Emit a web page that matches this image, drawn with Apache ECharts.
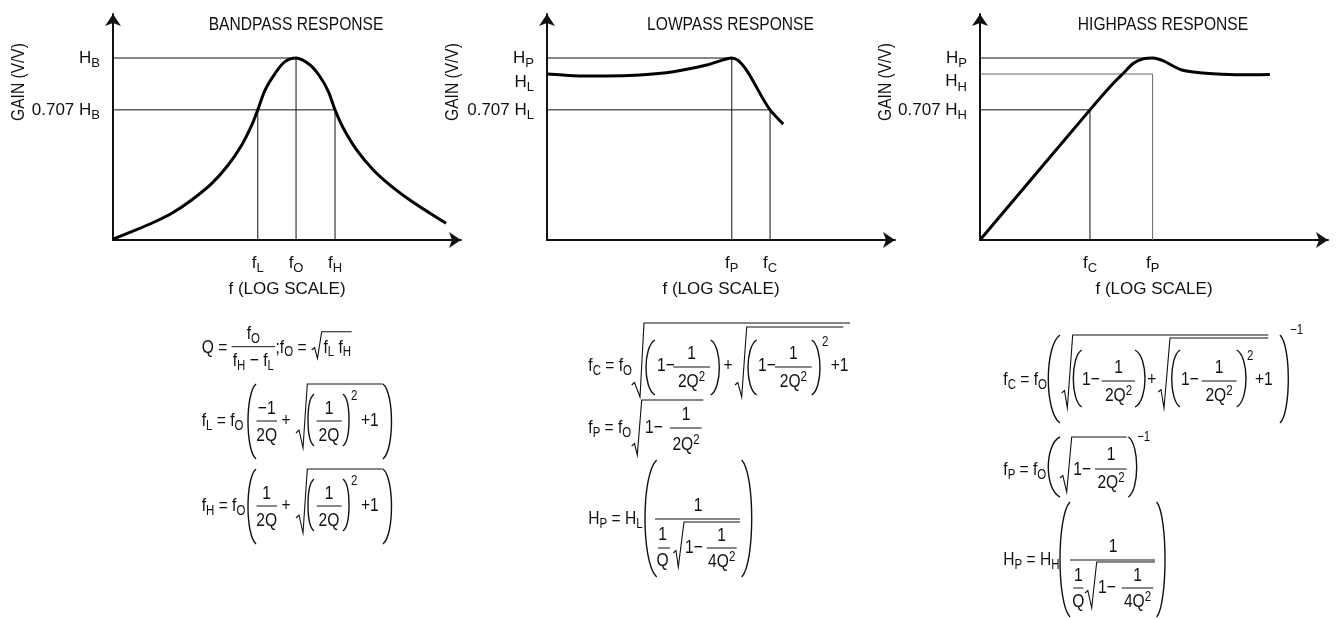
<!DOCTYPE html>
<html><head><meta charset="utf-8">
<script src="https://cdn.jsdelivr.net/npm/echarts@6/dist/echarts.min.js"></script>
<style>html,body{margin:0;padding:0;background:#fff}#c{width:1336px;height:619px}</style>
</head><body><div id="c"></div>
<script>
const FONT = "'Liberation Sans Narrow','Arial Narrow','Liberation Sans',Arial,sans-serif";
const FS = 19, SS = 14, INK = '#111', SX = 0.82;
const AFS = 17, ASS = 13;

// ---------- data (x: position along log-frequency axis, 0..100; y: gain, H = 1) ----------
const bpX = [0, 5.4, 11.1, 16.9, 22.6, 28.4, 33.1, 37.0, 39.9, 41.6, 43.7, 46.6, 49.4, 52.6, 56.6, 59.5, 61.9, 63.8, 66.2, 70.0, 74.8, 79.6, 85.3, 91.1, 95.7];
const bpY = [0.005, 0.046, 0.092, 0.147, 0.220, 0.311, 0.412, 0.522, 0.632, 0.715, 0.824, 0.916, 0.980, 1.0, 0.962, 0.897, 0.815, 0.715, 0.614, 0.495, 0.385, 0.302, 0.220, 0.147, 0.092];
const lpX = [0, 7.6, 17.2, 26.7, 36.3, 45.9, 53.1, 64.1, 67.9];
const lpY = [0.912, 0.903, 0.901, 0.907, 0.925, 0.962, 1.0, 0.715, 0.637];
const hpX = [0, 31.6, 38.3, 41.2, 44.1, 46.9, 49.8, 52.7, 55.5, 58.0, 61.3, 67.0, 74.7, 83.3];
const hpY = [0, 0.715, 0.861, 0.916, 0.971, 0.995, 1.0, 0.984, 0.956, 0.934, 0.923, 0.914, 0.908, 0.910];

const titles = ['BANDPASS RESPONSE', 'LOWPASS RESPONSE', 'HIGHPASS RESPONSE'];
const bpXTicks = [41.6, 52.6, 63.8], bpXLabels = ['f_L', 'f_O', 'f_H'];
const bpYTicks = [0.715, 1.0],       bpYLabels = ['0.707 H_B', 'H_B'];
const lpXTicks = [53.1, 64.1],       lpXLabels = ['f_P', 'f_C'];
const lpYTicks = [0.715, 0.868, 1.0], lpYLabels = ['0.707 H_L', 'H_L', 'H_P'];
const hpXTicks = [31.6, 49.6],       hpXLabels = ['f_C', 'f_P'];
const hpYTicks = [0.715, 0.87, 1.0], hpYLabels = ['0.707 H_H', 'H_H', 'H_P'];

// guide lines [x1,y1,x2,y2]
const bpGuides = [[0,1,52.6,1],[0,0.715,63.8,0.715],[41.6,0,41.6,0.715],[52.6,0,52.6,1],[63.8,0,63.8,0.715]];
const lpGuides = [[0,1,53.1,1],[0,0.715,64.1,0.715],[53.1,0,53.1,1],[64.1,0,64.1,0.715]];
const hpGuides = [[0,1,49.8,1],[0,0.715,31.6,0.715],[31.6,0,31.6,0.715]];
const hpGrayGuides = [[0,0.912,49.6,0.912],[49.6,0,49.6,0.912]];

// ---------- helpers ----------
function rt(str){
  let out='', buf='';
  for (let i=0;i<str.length;i++){
    const c=str[i];
    if ((c==='_'||c==='^') && i+1<str.length){
      if (buf){ out+='{m|'+buf+'}'; buf=''; }
      out+='{'+(c==='_'?'s':'p')+'|'+str[i+1]+'}'; i++;
    } else buf+=c;
  }
  if (buf) out+='{m|'+buf+'}';
  return out;
}
function mkRich(fs, ss){ return {
  m: {fontFamily: FONT, fontSize: fs, lineHeight: 24, color: INK, fill: INK},
  s: {fontFamily: FONT, fontSize: ss, lineHeight: 15, verticalAlign: 'bottom', color: INK, fill: INK},
  p: {fontFamily: FONT, fontSize: ss, lineHeight: 14, verticalAlign: 'top', color: INK, fill: INK}
}; }
const RICH = mkRich(FS, SS), ARICH = mkRich(AFS, ASS);
const G = [];
function T(x, y, s, al, rot){ al = al==='c' ? 'center' : (al||'left');
  G.push({type:'text', x, y, scaleX: SX, rotation: rot||0, silent:true, style:{text: rt(s), rich: RICH, fill: INK, fontFamily: FONT, fontSize: FS,
    align: al, verticalAlign: 'middle', textAlign: al, textVerticalAlign: 'middle'}}); }
function L(x1, x2, y){ G.push({type:'line', silent:true, shape:{x1, y1:y, x2, y2:y}, style:{stroke: INK, lineWidth: 1}}); }
function R(pts){ G.push({type:'polyline', silent:true, shape:{points: pts}, style:{stroke: INK, lineWidth: 1.1, fill: null}}); }
function P(xl, xr, y1, y2, left){
  const h = y2 - y1;
  const xe = left ? xr : xl, xb = left ? xl : xr;
  const c = xe + (xb - xe)/0.75;
  G.push({type:'bezierCurve', silent:true, shape:{x1: xe, y1, x2: xe, y2, cpx1: c, cpy1: y1 + h*0.12, cpx2: c, cpy2: y2 - h*0.12},
    style:{stroke: INK, lineWidth: 1.4, fill: null}});
}

// ---------- titles & axis names ----------
const titleCenters = [296, 730.5, 1163];
titles.forEach((t,i) => T(titleCenters[i], 25, t, 'c'));
[19, 453, 886].forEach(x => T(x, 82, 'GAIN (V/V)', 'c', Math.PI/2));

// ---------- formulas: bandpass ----------
T(201.7, 347.5, 'Q =');
T(253.3, 334, 'f_O', 'c'); L(231.7, 275, 346.7); T(253.3, 361, 'f_H − f_L', 'c');
T(275.5, 347.5, ';f_O =');
R([[311.7,350],[314.5,347.5],[317.5,358.3],[321.7,331.7],[351.7,331.7]]);
T(323.5, 347.5, 'f_L f_H');
function bpLine(A, lhs, num){
  T(201.7, A, lhs);
  P(248, 256, A-37, A+38, true);
  T(266.7, A-12, num, 'c'); L(256.5, 277, A); T(266.7, A+15, '2Q', 'c');
  T(286, A, '+', 'c');
  R([[296,A+12],[299,A+9],[303,A+27],[307.3,A-37],[382.7,A-37]]);
  P(308, 314, A-27, A+25, true);
  T(329, A-12, '1', 'c'); L(316.7, 341.7, A); T(329, A+15, '2Q', 'c');
  P(343, 349, A-27, A+25, false);
  T(351, A-25, '^2');
  T(361, A, '+1');
  P(383, 391.5, A-37, A+38, false);
}
bpLine(421, 'f_L = f_O', '−1');
bpLine(506, 'f_H = f_O', '1');

// ---------- formulas: lowpass ----------
(function(){
  let A = 366;
  T(588.3, A, 'f_C = f_O');
  R([[631.7,A+19],[634.5,A+16.5],[640,A+31],[644,A-43],[850,A-43]]);
  P(646, 655, A-26, A+29, true);
  T(657, A, '1−'); L(673.3, 710, A+1); T(691.5, A-12, '1', 'c'); T(691.5, A+16, '2Q^2', 'c');
  P(710.7, 719.3, A-26, A+29, false);
  T(728, A, '+', 'c');
  R([[735,A+19],[737.8,A+16.5],[741.7,A+31],[746.7,A-39],[843.3,A-39]]);
  P(748, 756.7, A-26, A+29, true);
  T(758, A, '1−'); L(775, 811.7, A+1); T(793.3, A-12, '1', 'c'); T(793.3, A+16, '2Q^2', 'c');
  P(811.7, 820, A-26, A+29, false);
  T(822, A-24, '^2');
  T(830.7, A, '+1');
  A = 428;
  T(588.3, A, 'f_P = f_O');
  R([[631.7,A+18],[634.5,A+15.5],[637.3,A+27],[641.7,A-28],[703.3,A-28]]);
  T(645, A, '1−'); L(670, 701.7, A); T(686, A-13, '1', 'c'); T(686, A+17, '2Q^2', 'c');
  A = 519;
  T(588.3, A, 'H_P = H_L');
  P(645, 656.7, A-59, A+58, true);
  T(698, A-13, '1', 'c'); L(655, 740, A);
  T(662.5, A+16, '1', 'c'); L(658, 670, A+29); T(662.5, A+42, 'Q', 'c');
  R([[673.3,A+34],[676,A+31.5],[678.3,A+48],[684,A+3],[740,A+3]]);
  T(685, A+29, '1−'); L(706.7, 736.7, A+29); T(721.7, A+17, '1', 'c'); T(721.7, A+43, '4Q^2', 'c');
  P(741.7, 751.7, A-59, A+58, false);
})();

// ---------- formulas: highpass ----------
(function(){
  let A = 380;
  T(1003.3, A, 'f_C = f_O');
  P(1048.3, 1060, A-45, A+43, true);
  R([[1061.7,A+13],[1064.5,A+10.5],[1067.3,A+28],[1072.7,A-45],[1268.3,A-45]]);
  P(1073.3, 1081.7, A-30, A+27, true);
  T(1082, A, '1−'); L(1101.7, 1135, A+1); T(1118.5, A-12, '1', 'c'); T(1118.5, A+16, '2Q^2', 'c');
  P(1135, 1145, A-30, A+27, false);
  T(1151.7, A, '+', 'c');
  R([[1158.3,A+12],[1161,A+9.5],[1164,A+28],[1170,A-42],[1268.3,A-42]]);
  P(1171.7, 1180, A-30, A+27, true);
  T(1181, A, '1−'); L(1201.7, 1236.7, A+1); T(1219, A-12, '1', 'c'); T(1219, A+16, '2Q^2', 'c');
  P(1236.7, 1246, A-30, A+27, false);
  T(1247, A-24, '^2');
  T(1255, A, '+1');
  P(1280, 1288.3, A-45, A+43, false);
  T(1290, A-50, '^−^1');
  A = 470;
  T(1003.3, A, 'f_P = f_O');
  P(1048.3, 1060, A-33, A+27, true);
  R([[1060,A+8],[1062.8,A+5.5],[1066.7,A+22],[1071.7,A-33],[1126.7,A-33]]);
  T(1073.3, A, '1−'); L(1095, 1126.7, A-1); T(1111, A-15, '1', 'c'); T(1111, A+13, '2Q^2', 'c');
  P(1128.3, 1136.7, A-33, A+27, false);
  T(1137, A-33, '^−^1');
  A = 560;
  T(1003.3, A, 'H_P = H_H');
  P(1060, 1070, A-58, A+57, true);
  T(1113, A-13, '1', 'c'); L(1070, 1155, A);
  T(1078.3, A+16, '1', 'c'); L(1073.3, 1083.3, A+28); T(1078.3, A+42, 'Q', 'c');
  R([[1085,A+33],[1087.8,A+30.5],[1091.7,A+48],[1096.7,A+2],[1155,A+2]]);
  T(1098, A+28, '1−'); L(1121.7, 1153.3, A+28); T(1137.5, A+16, '1', 'c'); T(1137.5, A+42, '4Q^2', 'c');
  P(1156.7, 1165, A-58, A+57, false);
})();

// ---------- chart ----------
const lefts = [113, 547, 980];
const XT = [bpXTicks, lpXTicks, hpXTicks], XL = [bpXLabels, lpXLabels, hpXLabels];
const YT = [bpYTicks, lpYTicks, hpYTicks], YL = [bpYLabels, lpYLabels, hpYLabels];
const CUR = [[bpX,bpY],[lpX,lpY],[hpX,hpY]];
const GUIDES = [bpGuides, lpGuides, hpGuides];
const axisLine = {show:true, onZero:true, symbol:['none','arrow'], symbolSize:[12,12], lineStyle:{color: INK, width: 2}};
function lab(ticks, labels){ return v => { let k=0, d=1e9; ticks.forEach((t,i)=>{ if (Math.abs(t-v)<d){d=Math.abs(t-v);k=i;} }); return rt(labels[k]); }; }

const series = [];
CUR.forEach((c, i) => {
  series.push({type:'line', xAxisIndex:i, yAxisIndex:i, data: c[0].map((x,j)=>[x, c[1][j]]), showSymbol:false, smooth:0.3,
    lineStyle:{color:'#000', width:3}, silent:true, z:3});
  GUIDES[i].forEach(g => series.push({type:'line', xAxisIndex:i, yAxisIndex:i, data:[[g[0],g[1]],[g[2],g[3]]], showSymbol:false,
    lineStyle:{color: INK, width:1}, silent:true, z:2}));
});
hpGrayGuides.forEach(g => series.push({type:'line', xAxisIndex:2, yAxisIndex:2, data:[[g[0],g[1]],[g[2],g[3]]], showSymbol:false,
  lineStyle:{color:'#666', width:1}, silent:true, z:2}));

const option = {
  animation:false, backgroundColor:'#fff',
  grid: lefts.map(l=>({left:l, top:14, width:348, height:226, containLabel:false, outerBoundsMode:'none'})),
  xAxis: lefts.map((l,i)=>({type:'value', gridIndex:i, min:0, max:100, axisLine,
    axisTick:{show:false}, splitLine:{show:false},
    axisLabel:{customValues: XT[i], formatter: lab(XT[i], XL[i]), rich: ARICH, margin: 11, color: INK},
    name:'f (LOG SCALE)', nameLocation:'middle', nameGap: 41,
    nameTextStyle:{fontFamily: FONT, fontSize: AFS, color: INK}})),
  yAxis: lefts.map((l,i)=>({type:'value', gridIndex:i, min:0, max:226/182, axisLine,
    axisTick:{show:false}, splitLine:{show:false},
    axisLabel:{customValues: YT[i], formatter: lab(YT[i], YL[i]), rich: ARICH, margin: 13, color: INK}})),
  graphic: G,
  series
};
const chart = echarts.init(document.getElementById('c'), null, {renderer:'canvas'});
chart.setOption(option);
</script></body></html>
